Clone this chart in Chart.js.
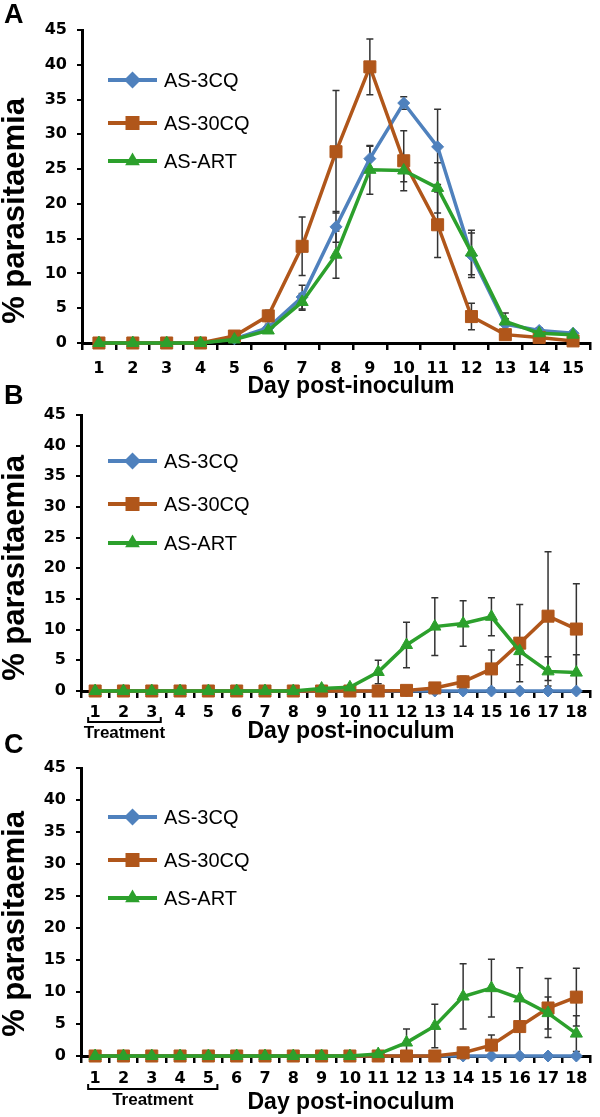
<!DOCTYPE html>
<html>
<head>
<meta charset="utf-8">
<script src="https://cdn.jsdelivr.net/npm/chart.js@4.4.1/dist/chart.umd.min.js"></script>
<style>
  body { margin: 0; background: #fff; }
  #wrap { position: relative; width: 600px; height: 1117px; }
  canvas { position: absolute; left: 0; top: 0; }
</style>
</head>
<body>
<div id="wrap">
  <canvas id="chartA" width="600" height="1117"></canvas>
  <canvas id="chartB" width="600" height="1117"></canvas>
  <canvas id="chartC" width="600" height="1117"></canvas>
</div>
<script>
// Day labels
const daysA = ['1','2','3','4','5','6','7','8','9','10','11','12','13','14','15'];
const daysBC = ['1','2','3','4','5','6','7','8','9','10','11','12','13','14','15','16','17','18'];
const seriesNames = ['AS-3CQ', 'AS-30CQ', 'AS-ART'];
const yTicks = [0, 5, 10, 15, 20, 25, 30, 35, 40, 45];

// Panel A - untreated
const a3cq  = [0, 0, 0, 0, 0.6, 2.2, 6.6, 16.7, 26.5, 34.5, 28.2, 12.6, 2.7, 1.8, 1.4];
const a30cq = [0, 0, 0, 0, 1.0, 3.9, 13.9, 27.5, 39.7, 26.2, 17.0, 3.8, 1.2, 0.8, 0.3];
const aArt  = [0, 0, 0, 0, 0.5, 1.8, 5.9, 12.7, 24.9, 24.8, 22.3, 13.0, 3.1, 1.4, 1.2];
const a3cqErr  = [0, 0, 0, 0, 0.2, 0.5, 1.7, 2.2, 1.8, 0.9, 5.4, 3.2, 0.8, 0.4, 0.3];
const a30cqErr = [0, 0, 0, 0, 0.3, 0.8, 4.2, 8.8, 4.0, 4.3, 4.7, 1.9, 0.3, 0.3, 0.2];
const aArtErr  = [0, 0, 0, 0, 0.2, 0.4, 1.2, 3.4, 3.5, 1.6, 3.6, 3.2, 1.2, 0.5, 0.3];

// Panel B - 3 days treatment
const b3cq  = [0, 0, 0, 0, 0, 0, 0, 0, 0, 0, 0, 0, 0, 0, 0, 0, 0, 0];
const b30cq = [0, 0, 0, 0, 0, 0, 0, 0, 0, 0, 0, 0.1, 0.5, 1.5, 3.6, 7.8, 12.2, 10.1];
const bArt  = [0, 0, 0, 0, 0, 0, 0, 0, 0.4, 0.6, 3.1, 7.5, 10.5, 11.0, 12.1, 6.5, 3.2, 3.0];
const b3cqErr  = [0, 0, 0, 0, 0, 0, 0, 0, 0, 0, 0, 0, 0, 0, 0, 0, 0, 0];
const b30cqErr = [0, 0, 0, 0, 0, 0, 0, 0, 0, 0, 0, 0, 0.3, 0.9, 3.1, 6.3, 10.5, 7.4];
const bArtErr  = [0, 0, 0, 0, 0, 0, 0, 0, 0.2, 0.2, 1.9, 3.7, 4.7, 3.7, 3.1, 2.2, 2.4, 2.9];

// Panel C - 5 days treatment
const c3cq  = [0, 0, 0, 0, 0, 0, 0, 0, 0, 0, 0, 0, 0, 0, 0, 0, 0, 0];
const c30cq = [0, 0, 0, 0, 0, 0, 0, 0, 0, 0, 0, 0, 0, 0.5, 1.7, 4.6, 7.5, 9.2];
const cArt  = [0, 0, 0, 0, 0, 0, 0, 0, 0, 0, 0.3, 2.1, 4.7, 9.3, 10.6, 9.0, 6.7, 3.5];
const c3cqErr  = [0, 0, 0, 0, 0, 0, 0, 0, 0, 0, 0, 0, 0, 0, 0, 0, 0, 0];
const c30cqErr = [0, 0, 0, 0, 0, 0, 0, 0, 0, 0, 0, 0, 0, 0.2, 1.6, 4.4, 4.6, 4.5];
const cArtErr  = [0, 0, 0, 0, 0, 0, 0, 0, 0, 0, 0.2, 2.1, 3.4, 5.1, 4.5, 4.8, 2.5, 2.8];

const colors = ['#4F81BD', '#B0561A', '#2CA02C'];
const styles = ['rectRot', 'rect', 'triangle'];
const radii = [6, 8.5, 7];
const sansFont = "'Liberation Sans', Arial, sans-serif";

// draw a legend marker by hand
function drawMarker(ctx, style, x, y, r) {
  ctx.beginPath();
  if (style === 'rectRot') {
    ctx.moveTo(x, y - r); ctx.lineTo(x + r, y); ctx.lineTo(x, y + r); ctx.lineTo(x - r, y);
  } else if (style === 'rect') {
    ctx.rect(x - r, y - r, 2 * r, 2 * r);
  } else {
    ctx.moveTo(x, y - r);
    ctx.lineTo(x + r * 0.866, y + r * 0.5);
    ctx.lineTo(x - r * 0.866, y + r * 0.5);
  }
  ctx.closePath();
  ctx.fill();
}

const errorBars = {
  id: 'errorBars',
  beforeDatasetsDraw(chart) {
    const ctx = chart.ctx;
    const yScale = chart.scales.y;
    ctx.save();
    ctx.strokeStyle = '#333';
    ctx.lineWidth = 1.5;
    chart.data.datasets.forEach((ds, di) => {
      const meta = chart.getDatasetMeta(di);
      ds.errors.forEach((e, i) => {
        if (!e) return;
        const x = meta.data[i].x;
        const y1 = yScale.getPixelForValue(ds.data[i] + e);
        const y2 = yScale.getPixelForValue(ds.data[i] - e);
        ctx.beginPath();
        ctx.moveTo(x, y1); ctx.lineTo(x, y2);
        ctx.moveTo(x - 3.5, y1); ctx.lineTo(x + 3.5, y1);
        ctx.moveTo(x - 3.5, y2); ctx.lineTo(x + 3.5, y2);
        ctx.stroke();
      });
    });
    ctx.restore();
  }
};

const decorations = {
  id: 'decorations',
  afterDraw(chart) {
    const p = chart.options.plugins.decorations;
    const ctx = chart.ctx;
    const area = chart.chartArea;
    ctx.save();
    ctx.fillStyle = '#000';

    // panel letter
    ctx.font = 'bold 27px ' + sansFont;
    ctx.textAlign = 'left';
    ctx.textBaseline = 'alphabetic';
    ctx.fillText(p.letter, 4, p.letterY);

    // axis titles
    ctx.font = 'bold 23px ' + sansFont;
    ctx.textAlign = 'center';
    ctx.textBaseline = 'middle';
    ctx.fillText('Day post-inoculum', 351, p.xTitleY);

    ctx.save();
    ctx.translate(15, p.yTitleY);
    ctx.rotate(-Math.PI / 2);
    ctx.font = 'bold 31px ' + sansFont;
    ctx.fillText('% parasitaemia', 0, 0);
    ctx.restore();

    // treatment bracket
    if (p.treatDays) {
      const xs = chart.scales.x;
      const x1 = xs.getPixelForValue(0) - 7;
      const x2 = xs.getPixelForValue(p.treatDays - 1) + 9;
      const yb = p.bracketY;
      ctx.strokeStyle = '#000';
      ctx.lineWidth = 2;
      ctx.beginPath();
      ctx.moveTo(x1, yb - 5); ctx.lineTo(x1, yb); ctx.lineTo(x2, yb); ctx.lineTo(x2, yb - 5);
      ctx.stroke();
      ctx.font = 'bold 17px ' + sansFont;
      ctx.fillText('Treatment', (x1 + x2) / 2, yb + 11);
    }

    // legend
    chart.data.datasets.forEach((ds, i) => {
      const y = p.legendY[i];
      ctx.strokeStyle = ds.borderColor;
      ctx.fillStyle = ds.borderColor;
      ctx.lineWidth = 4;
      ctx.beginPath();
      ctx.moveTo(108, y); ctx.lineTo(157, y);
      ctx.stroke();
      drawMarker(ctx, styles[i], 132.5, y, i === 1 ? 7 : 8.5);
      ctx.fillStyle = '#000';
      ctx.font = '20px ' + sansFont;
      ctx.textAlign = 'left';
      ctx.fillText(ds.label, 164, y + 1);
    });
    ctx.restore();
  }
};

function makeChart(id, labels, values, errs, p) {
  const datasets = values.map((v, i) => ({
    label: seriesNames[i],
    data: v,
    errors: errs[i],
    borderColor: colors[i],
    backgroundColor: colors[i],
    borderWidth: 3.5,
    pointStyle: styles[i],
    pointRadius: radii[i],
    pointBorderWidth: 1,
    order: 3 - i,
    tension: 0,
    clip: false
  }));
  return new Chart(document.getElementById(id), {
    type: 'line',
    data: { labels: labels, datasets: datasets },
    plugins: [errorBars, decorations],
    options: {
      responsive: false,
      animation: false,
      events: [],
      layout: { padding: { top: p.top, right: 600 - p.right, left: 0, bottom: 0 } },
      plugins: {
        legend: { display: false },
        tooltip: { enabled: false },
        decorations: p
      },
      scales: {
        x: {
          offset: true,
          grid: { offset: true, drawOnChartArea: false, tickLength: 7, lineWidth: 2.5, color: '#000' },
          border: { color: '#000', width: 3 },
          ticks: { color: '#000', padding: p.tickPad, maxRotation: 0, autoSkip: false,
                   font: { family: "'DejaVu Sans'", weight: 'bold', size: 16 } },
          afterFit: s => { s.height = 1117 - p.bottom; }
        },
        y: {
          min: 0,
          max: 45,
          afterBuildTicks: s => { s.ticks = yTicks.map(v => ({ value: v })); },
          grid: { drawOnChartArea: false, tickLength: 5, lineWidth: 2, color: '#000' },
          border: { color: '#000', width: 3 },
          ticks: { color: '#000', padding: 10,
                   font: { family: "'DejaVu Sans'", weight: 'bold', size: 16 } },
          afterFit: s => { s.width = p.left; }
        }
      }
    }
  });
}

makeChart('chartA', daysA, [a3cq, a30cq, aArt], [a3cqErr, a30cqErr, aArtErr], {
  top: 30, bottom: 343, left: 82, right: 590, tickPad: 9,
  letter: 'A', letterY: 23, xTitleY: 387, yTitleY: 211, legendY: [80, 123, 161]
});
makeChart('chartB', daysBC, [b3cq, b30cq, bArt], [b3cqErr, b30cqErr, bArtErr], {
  top: 415, bottom: 691, left: 81, right: 596, tickPad: 5,
  letter: 'B', letterY: 404, xTitleY: 732, yTitleY: 568, legendY: [461, 504, 543],
  treatDays: 3, bracketY: 722
});
makeChart('chartC', daysBC, [c3cq, c30cq, cArt], [c3cqErr, c30cqErr, cArtErr], {
  top: 768, bottom: 1056, left: 81, right: 599, tickPad: 6,
  letter: 'C', letterY: 753, xTitleY: 1103, yTitleY: 924, legendY: [817, 860, 898],
  treatDays: 5, bracketY: 1089
});
</script>
</body>
</html>
